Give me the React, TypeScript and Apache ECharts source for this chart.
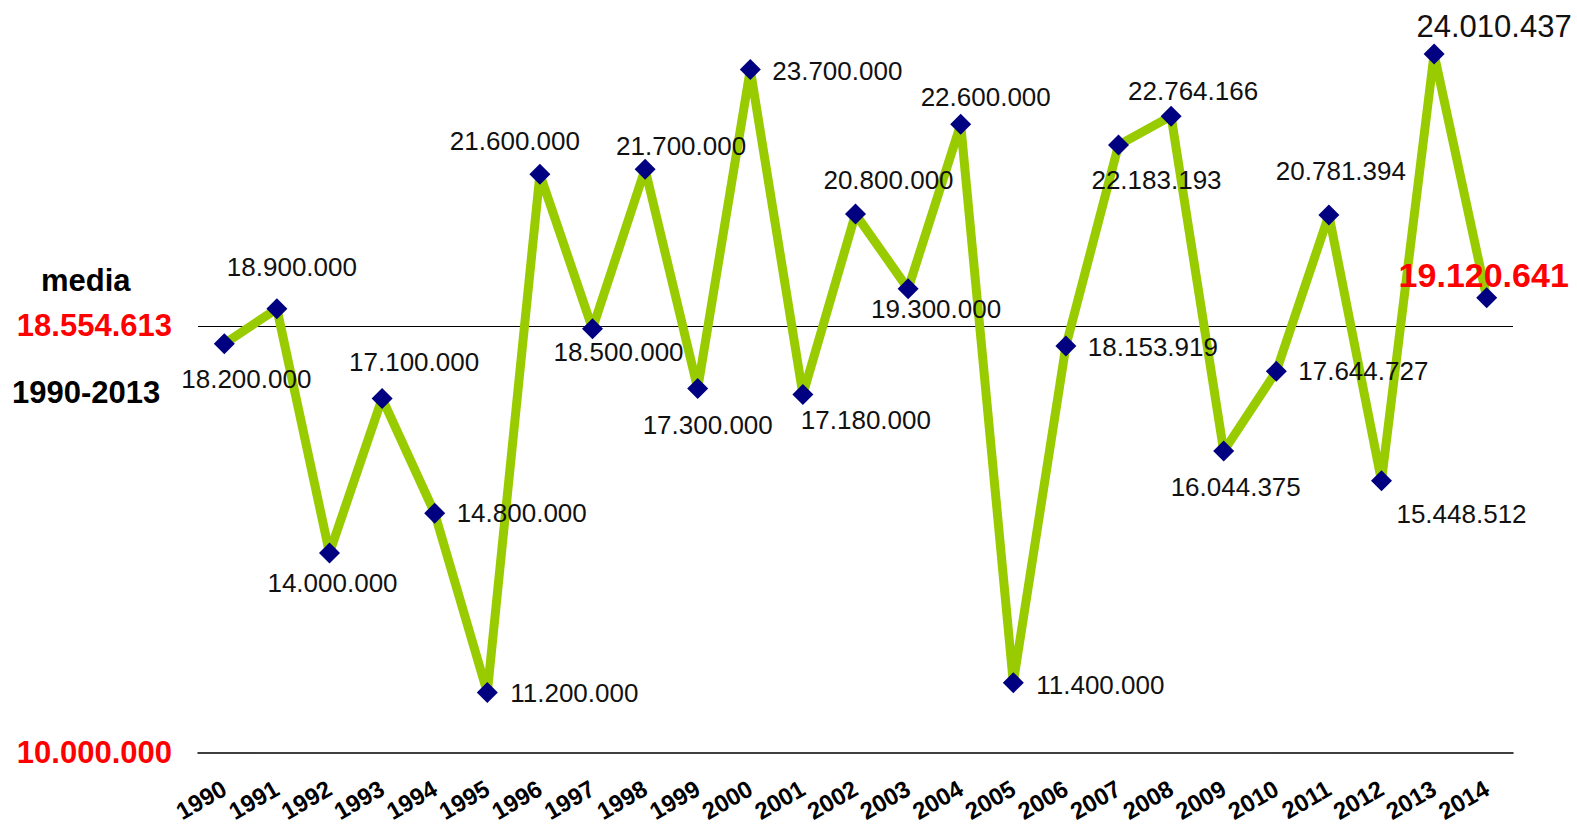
import React, { useEffect, useRef } from "react";
import * as echarts from "echarts";

const years = ["1990","1991","1992","1993","1994","1995","1996","1997","1998","1999","2000","2001","2002","2003","2004","2005","2006","2007","2008","2009","2010","2011","2012","2013","2014"];
const values = [18200000,18900000,14000000,17100000,14800000,11200000,21600000,18500000,21700000,17300000,23700000,17180000,20800000,19300000,22600000,11400000,18153919,22183193,22764166,16044375,17644727,20781394,15448512,24010437,19120641];
const meanValue = 18554613;
const yMin = 10000000;
const yMax = 25000000;
const meanTitle = "media";
const meanPeriod = "1990-2013";

// label placement (offset from point centre)
const labelOffsets: [number, number][] = [
  [22, 35],[15, -42],[3, 30],[32, -36],[87, 0],[87, 0],[-25, -33],[26, 23],[36, -23],[10, 36],
  [87, 1],[63, 25],[33, -34],[28, 20],[25, -27],[87, 2],[87, 1],[38, 35],[22, -25],[12, 36],
  [87, 0],[12, -44],[80, 33],[60, -28],[-3, -23],
];

const fmt = (v: number) => Math.round(v).toString().replace(/\B(?=(\d{3})+(?!\d))/g, ".");

const FONT = "'Liberation Sans', Arial, sans-serif";

export default function App() {
  const ref = useRef<HTMLDivElement>(null);
  useEffect(() => {
    if (!ref.current) return;
    const chart = echarts.init(ref.current, null, { renderer: "svg" });
    const n = values.length;
    const data = values.map((v, i) => {
      const item: any = {
        value: v,
        label: {
          show: true,
          position: "inside",
          offset: labelOffsets[i],
          align: "center",
          verticalAlign: "middle",
          formatter: () => fmt(v),
          color: "#111",
          fontSize: 26,
          fontFamily: FONT,
        },
      };
      if (i === n - 2) {
        item.label.fontSize = 31;
      }
      if (i === n - 1) {
        item.label.fontSize = 34;
        item.label.fontWeight = "bold";
        item.label.color = "#ff0000";
      }
      return item;
    });
    chart.setOption({
      animation: false,
      grid: { left: 198, right: 64, top: 4.7, bottom: 72.5 },
      xAxis: {
        type: "category",
        data: years,
        boundaryGap: true,
        axisTick: { show: false },
        axisLine: { lineStyle: { color: "#000", width: 1.5 } },
        axisLabel: {
          rotate: 30,
          interval: 0,
          margin: 34,
          fontSize: 24,
          fontWeight: "bold",
          color: "#000",
          fontFamily: FONT,
        },
      },
      yAxis: {
        type: "value",
        min: yMin,
        max: yMax,
        splitLine: { show: false },
        axisLine: { show: false },
        axisTick: { show: false },
        axisLabel: {
          customValues: [yMin, meanValue],
          formatter: (v: number) => fmt(v),
          color: "#ff0000",
          fontWeight: "bold",
          fontSize: 31,
          margin: 26,
          fontFamily: FONT,
        },
      },
      graphic: [
        {
          type: "text",
          x: 41,
          y: 280,
          style: { text: meanTitle, font: `bold 31px ${FONT}`, fill: "#000", verticalAlign: "middle" },
        },
        {
          type: "text",
          x: 12,
          y: 392,
          style: { text: meanPeriod, font: `bold 31px ${FONT}`, fill: "#000", verticalAlign: "middle" },
        },
      ],
      series: [
        {
          type: "line",
          data,
          symbol: "diamond",
          symbolSize: 21,
          itemStyle: { color: "#000080" },
          lineStyle: { color: "#99cc00", width: 9 },
          z: 3,
          markLine: {
            silent: true,
            symbol: "none",
            label: { show: false },
            lineStyle: { color: "#000", width: 1, type: "solid" },
            data: [{ yAxis: meanValue }],
            z: 1,
          },
        },
      ],
    });
    return () => chart.dispose();
  }, []);
  return (
    <div
      ref={ref}
      style={{ position: "fixed", left: 0, top: 0, width: 1577, height: 825, background: "#fff" }}
    />
  );
}
